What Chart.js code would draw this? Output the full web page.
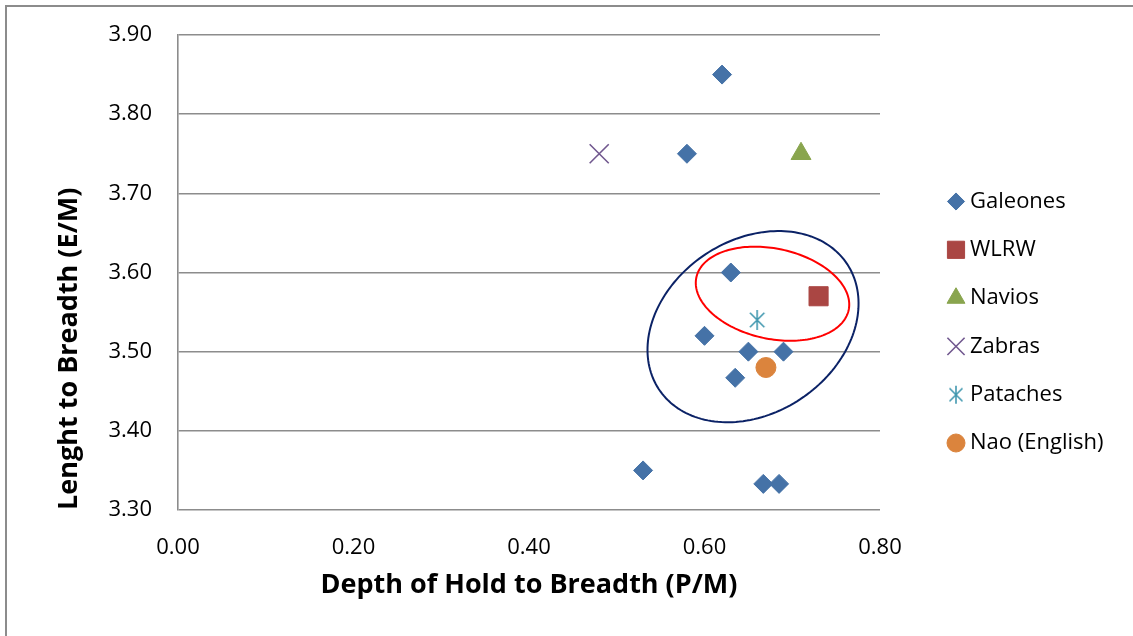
<!DOCTYPE html>
<html>
<head>
<meta charset="utf-8">
<script src="https://cdn.jsdelivr.net/npm/chart.js@4"></script>
<style>
  html, body { margin: 0; padding: 0; background: #ffffff; }
  #wrap { width: 1133px; height: 636px; position: relative; }
</style>
</head>
<body>
<div id="wrap"><canvas id="c" width="1133" height="636"></canvas></div>
<script>
// ---- data ----
const galeonesX = [0.62, 0.58, 0.63, 0.60, 0.65, 0.69, 0.635, 0.53, 0.667, 0.685];
const galeonesY = [3.85, 3.75, 3.60, 3.52, 3.50, 3.50, 3.467, 3.35, 3.333, 3.333];
const wlrwX = [0.73];
const wlrwY = [3.57];
const naviosX = [0.71];
const naviosY = [3.75];
const zabrasX = [0.48];
const zabrasY = [3.75];
const patachesX = [0.66];
const patachesY = [3.54];
const naoX = [0.67];
const naoY = [3.48];
const seriesNames = ['Galeones', 'WLRW', 'Navios', 'Zabras', 'Pataches', 'Nao (English)'];
const xTicks = [0.00, 0.20, 0.40, 0.60, 0.80];
const yTicks = [3.30, 3.40, 3.50, 3.60, 3.70, 3.80, 3.90];
const xTitle = 'Depth of Hold to Breadth (P/M)';
const yTitle = 'Lenght to Breadth (E/M)';
// ellipse annotations in data units: centre and two conjugate half-axis vectors
const blueEllipseCenter = [0.6553, 3.5316];
const blueEllipseU = [0.1075, 0.0787];
const blueEllipseV = [0.0539, -0.0916];
const redEllipseCenter = [0.6775, 3.5732];
const redEllipseU = [0.0868, -0.0205];
const redEllipseV = [-0.0105, -0.0558];

const FONT = '"Open Sans", "Noto Sans", sans-serif';

function pts(xs, ys) { return xs.map((x, i) => ({ x: x, y: ys[i] })); }

// custom asterisk marker (vertical bar + X) for Pataches
function makeAsterisk(color, size, lw) {
  const c = document.createElement('canvas');
  c.width = size; c.height = size;
  const g = c.getContext('2d');
  g.strokeStyle = color; g.lineWidth = lw;
  const m = size / 2, r = size / 2 - 1;
  const d = r * 0.72;
  g.beginPath();
  g.moveTo(m, m - r); g.lineTo(m, m + r);
  g.moveTo(m - d, m - d); g.lineTo(m + d, m + d);
  g.moveTo(m - d, m + d); g.lineTo(m + d, m - d);
  g.stroke();
  return c;
}
const asteriskBig = makeAsterisk('#4198AF', 22, 1.6);
const asteriskSmall = makeAsterisk('#4198AF', 20, 1.6);

const datasets = [
  { label: seriesNames[0], data: pts(galeonesX, galeonesY), pointStyle: 'rectRot', pointRadius: 9.5,
    backgroundColor: '#4572A7', borderColor: '#4572A7', borderWidth: 1 },
  { label: seriesNames[1], data: pts(wlrwX, wlrwY), pointStyle: 'rect', pointRadius: 13.5,
    backgroundColor: '#AA4643', borderColor: '#AA4643', borderWidth: 1 },
  { label: seriesNames[2], data: pts(naviosX, naviosY), pointStyle: 'triangle', pointRadius: 11.5,
    backgroundColor: '#89A54E', borderColor: '#89A54E', borderWidth: 1 },
  { label: seriesNames[3], data: pts(zabrasX, zabrasY), pointStyle: 'crossRot', pointRadius: 13.5,
    backgroundColor: '#71588F', borderColor: '#71588F', borderWidth: 1.6 },
  { label: seriesNames[4], data: pts(patachesX, patachesY), pointStyle: asteriskBig, pointRadius: 11,
    backgroundColor: '#4198AF', borderColor: '#4198AF', borderWidth: 1.6, legendStyle: asteriskSmall },
  { label: seriesNames[5], data: pts(naoX, naoY), pointStyle: 'circle', pointRadius: 10,
    backgroundColor: '#DB843D', borderColor: '#DB843D', borderWidth: 1 }
];
datasets.forEach(d => { d.pointHoverRadius = d.pointRadius; d.showLine = false; });

const frame = {
  id: 'frame',
  beforeDraw(chart) {
    const ctx = chart.ctx;
    ctx.save();
    ctx.fillStyle = '#ffffff';
    ctx.fillRect(0, 0, chart.width, chart.height);
    ctx.strokeStyle = '#8c8c8c';
    ctx.lineWidth = 2;
    ctx.strokeRect(6, 6, chart.width + 20, chart.height + 20);
    ctx.restore();
  }
};

function drawEllipse(chart, c, u, v, color, lw) {
  const xs = chart.scales.x, ys = chart.scales.y, ctx = chart.ctx;
  ctx.save();
  ctx.strokeStyle = color;
  ctx.lineWidth = lw;
  ctx.beginPath();
  const N = 180;
  for (let i = 0; i <= N; i++) {
    const t = (i / N) * Math.PI * 2;
    const px = xs.getPixelForValue(c[0] + u[0] * Math.cos(t) + v[0] * Math.sin(t));
    const py = ys.getPixelForValue(c[1] + u[1] * Math.cos(t) + v[1] * Math.sin(t));
    if (i === 0) ctx.moveTo(px, py); else ctx.lineTo(px, py);
  }
  ctx.closePath();
  ctx.stroke();
  ctx.restore();
}

const ellipses = {
  id: 'ellipses',
  afterDatasetsDraw(chart) {
    drawEllipse(chart, blueEllipseCenter, blueEllipseU, blueEllipseV, '#0B2266', 2);
    drawEllipse(chart, redEllipseCenter, redEllipseU, redEllipseV, '#FF0000', 2);
  }
};

const legendPlugin = {
  id: 'customLegend',
  afterDraw(chart) {
    const ctx = chart.ctx;
    const x0 = 956, y0 = 201.5, step = 48.3, tx = 970;
    ctx.save();
    ctx.font = '22px ' + FONT;
    ctx.textBaseline = 'middle';
    ctx.textAlign = 'left';
    chart.data.datasets.forEach((d, i) => {
      const y = y0 + i * step;
      ctx.fillStyle = d.backgroundColor;
      ctx.strokeStyle = d.borderColor;
      ctx.lineWidth = d.borderWidth;
      const style = d.legendStyle || d.pointStyle;
      Chart.helpers.drawPoint(ctx, { pointStyle: style, rotation: 0, radius: d.pointRadius * 0.9,
        borderWidth: d.borderWidth }, x0, y);
      ctx.fillStyle = '#000000';
      ctx.fillText(d.label, tx, y);
    });
    ctx.restore();
  }
};

new Chart(document.getElementById('c'), {
  type: 'scatter',
  data: { datasets: datasets },
  options: {
    responsive: false,
    animation: false,
    devicePixelRatio: 1,
    layout: { padding: { top: 35, right: 253, left: 0, bottom: 0 } },
    plugins: { legend: { display: false }, tooltip: { enabled: false } },
    scales: {
      x: {
        type: 'linear', min: 0, max: 0.8,
        afterBuildTicks: (s) => { s.ticks = xTicks.map(v => ({ value: v })); },
        afterFit: (s) => { s.height = 126; s.paddingLeft = 0; s.paddingRight = 0; },
        ticks: { callback: (v) => Number(v).toFixed(2), color: '#000000', padding: 25,
                 font: { family: FONT, size: 22 }, maxRotation: 0 },
        grid: { display: false, drawTicks: false },
        border: { display: false },
        title: { display: true, text: xTitle, color: '#000000',
                 font: { family: FONT, size: 27, weight: 'bold', lineHeight: 1 },
                 padding: { top: 0, bottom: 37 } }
      },
      y: {
        type: 'linear', min: 3.3, max: 3.9,
        afterBuildTicks: (s) => { s.ticks = yTicks.map(v => ({ value: v })); },
        afterFit: (s) => { s.width = 178; s.paddingTop = 0; s.paddingBottom = 0; },
        ticks: { callback: (v) => Number(v).toFixed(2), color: '#000000', padding: 26,
                 font: { family: FONT, size: 22 } },
        grid: { color: '#8c8c8c', lineWidth: 1.6, drawTicks: false },
        border: { display: true, color: '#8c8c8c', width: 1.6 },
        title: { display: true, text: yTitle, align: 'start', color: '#000000',
                 font: { family: FONT, size: 27, weight: 'bold', lineHeight: 1 },
                 padding: { top: 56, bottom: 0 } }
      }
    }
  },
  plugins: [frame, ellipses, legendPlugin]
});
</script>
</body>
</html>
